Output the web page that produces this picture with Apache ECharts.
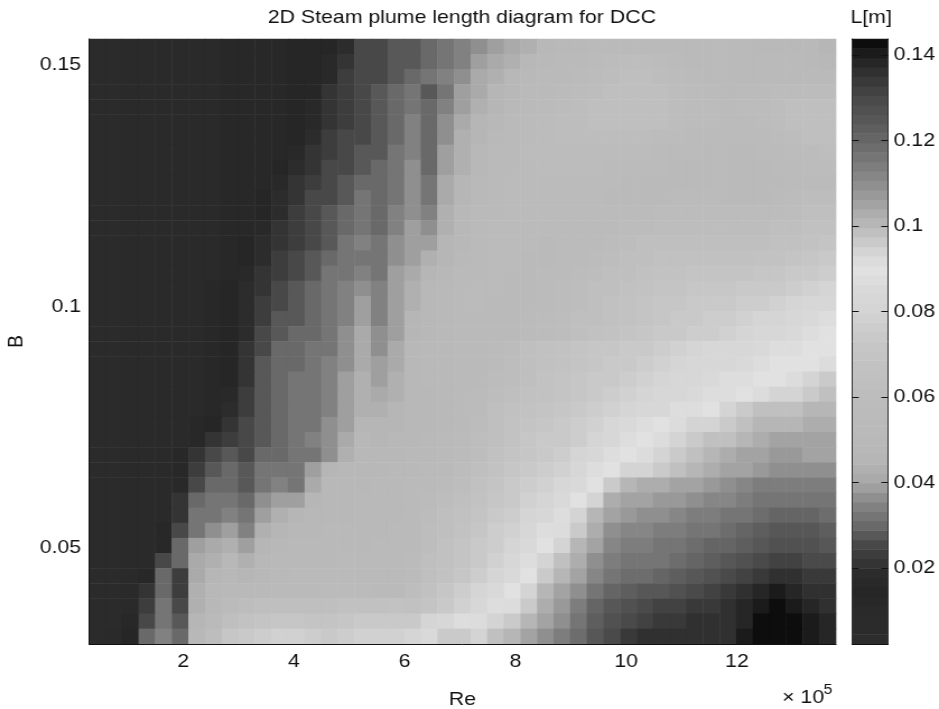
<!DOCTYPE html>
<html><head><meta charset="utf-8"><style>html,body{margin:0;padding:0;background:#fff;overflow:hidden}#c{width:838px;height:709px;transform:scaleX(1.12053);transform-origin:0 0}</style>
<script src="https://cdn.jsdelivr.net/npm/echarts@6/dist/echarts.min.js"></script></head><body><div id="c"></div>
<script>
const reTicks=[2,4,6,8,10,12];
const bTicks=[0.05,0.1,0.15];
const lTicks=[0.02,0.04,0.06,0.08,0.1,0.12,0.14];
const reRange=[0.3,13.79];
const bRange=[0.03,0.1554];
const lRange=[0.0022,0.1437];
// plume length in mm, rows from top (high B) to bottom (low B), columns from low Re to high Re
const lengthRows=[
[8,8,9,9,10,10,11,11,12,12,13,13,14,14,15,18,25,26,27,28,30,33,35,37,39,41,44,47,49,50,52,54,55,55,54,53,52,52,52,51,50,50,50,49,46],
[8,8,9,9,10,10,11,11,12,12,13,13,14,14,16,22,25,26,27,28,30,33,35,38,41,44,48,50,52,54,56,58,60,60,58,56,54,54,53,52,52,52,51,50,48],
[8,8,9,9,10,10,11,11,12,12,13,13,14,15,17,23,25,26,28,29,31,34,37,40,43,47,50,53,55,57,59,61,62,62,60,58,56,55,54,54,54,54,53,52,52],
[8,8,9,9,10,10,11,11,12,12,13,13,14,15,20,24,26,27,29,31,28,33,38,41,45,48,52,55,57,59,61,62,63,63,62,60,58,56,55,56,57,58,58,58,58],
[8,8,9,9,10,10,11,11,12,12,13,13,14,16,21,24,25,27,30,33,29,35,39,43,46,50,54,57,59,60,62,63,64,64,63,61,59,58,57,58,59,60,62,62,62],
[8,8,9,9,10,10,11,11,12,12,13,13,14,17,22,24,26,27,29,34,30,36,41,45,48,52,56,58,60,61,62,63,63,63,62,60,59,58,57,57,58,60,62,64,64],
[8,8,9,9,10,10,11,11,12,12,13,13,15,19,23,25,26,28,30,34,30,37,42,46,50,54,57,59,60,61,61,61,61,60,59,58,57,57,56,56,57,59,61,62,62],
[8,8,9,9,10,10,11,11,12,12,13,13,16,21,24,25,27,28,31,35,29,38,43,47,51,55,58,59,59,59,59,59,58,58,57,56,56,55,55,55,56,57,58,59,60],
[8,8,9,9,10,10,11,11,12,12,13,14,18,22,25,26,27,29,32,36,30,39,44,48,52,55,57,58,58,58,58,57,57,56,56,55,55,55,55,55,55,56,57,58,58],
[8,8,9,9,10,10,11,11,12,12,13,16,21,24,25,27,30,30,33,36,31,40,45,49,53,56,57,57,57,57,56,56,55,55,55,55,55,55,55,55,54,55,56,57,57],
[8,8,9,9,10,10,11,11,12,12,14,18,22,25,26,28,31,30,33,37,32,41,46,50,54,56,57,57,57,56,56,55,55,55,55,56,56,56,55,55,55,56,58,60,60],
[8,8,9,9,10,10,11,11,12,12,15,19,23,25,27,29,32,30,34,37,34,42,47,51,55,57,57,57,56,56,56,56,56,57,58,58,58,58,58,58,58,59,60,62,63],
[8,8,9,9,10,10,11,11,12,13,16,21,24,26,28,30,33,30,35,38,36,44,47,52,56,57,57,56,56,56,56,57,58,59,60,61,61,61,61,61,61,62,64,65,66],
[8,8,9,9,10,10,11,11,12,14,18,22,24,26,28,31,34,31,36,39,39,46,48,53,56,56,56,55,56,56,57,58,60,62,63,64,64,64,64,64,64,65,66,68,70],
[8,8,9,9,10,10,11,11,12,15,19,23,25,27,29,32,33,32,37,39,42,46,50,54,56,56,55,55,56,57,58,60,62,64,65,66,66,66,66,66,67,68,70,72,73],
[8,8,9,9,10,10,11,11,13,16,21,24,26,28,31,33,35,33,38,41,46,48,52,55,56,55,55,56,57,58,60,62,64,66,67,68,69,69,69,70,71,72,73,75,76],
[8,8,9,9,10,10,11,12,14,18,22,25,27,29,32,34,37,34,39,43,47,49,53,56,56,55,55,56,58,60,62,64,66,68,69,70,71,71,72,73,74,75,77,79,80],
[8,8,9,9,10,10,11,12,14,19,23,26,28,30,33,35,39,34,38,44,48,50,54,56,55,55,55,57,59,61,63,65,67,69,71,72,73,74,75,76,77,78,80,82,84],
[8,8,9,9,10,10,11,12,14,19,24,27,28,30,33,35,39,35,38,45,48,50,54,55,54,54,56,58,60,62,64,66,68,70,72,74,75,76,77,79,80,81,83,85,87],
[8,8,9,9,10,10,11,12,14,19,25,28,29,30,33,36,40,36,39,46,48,50,53,54,53,54,57,59,61,63,65,67,69,71,73,75,76,77,79,81,83,84,85,87,89],
[8,8,9,9,10,10,11,12,14,20,26,29,30,31,33,36,41,37,40,47,49,50,52,54,56,59,62,65,67,69,71,72,74,75,76,78,80,82,83,84,85,87,88,89,90],
[8,8,9,9,10,10,11,12,14,21,27,29,30,31,34,37,41,38,41,47,49,50,52,54,57,60,63,66,68,70,72,74,75,76,78,80,82,83,84,86,87,89,90,90,92],
[8,8,9,9,10,10,11,12,15,22,27,29,31,32,35,38,42,39,42,47,49,50,52,55,58,61,64,67,69,71,73,75,76,78,80,82,84,85,87,88,89,90,92,94,97],
[8,8,9,9,10,10,11,12,16,23,28,30,31,32,35,38,42,41,44,47,48,50,52,56,60,63,66,68,70,72,74,76,78,80,82,84,86,87,88,90,91,93,95,97,98],
[8,8,9,9,10,10,11,13,18,24,28,30,31,33,35,38,43,42,45,47,48,50,53,57,62,65,67,70,72,74,76,78,80,82,84,87,88,90,93,96,98,98,99,100,100],
[8,8,9,9,10,10,12,15,22,25,28,30,32,33,36,39,46,45,46,47,48,50,54,59,63,67,70,72,74,76,79,82,85,88,90,91,93,95,97,99,100,101,101,102,102],
[8,8,9,9,10,10,13,22,24,26,28,30,32,34,36,40,47,46,47,48,49,52,56,60,64,68,71,73,75,77,80,84,87,90,91,94,96,98,99,100,102,104,104,104,104],
[8,8,9,9,10,12,21,25,27,26,29,30,31,33,37,42,47,47,48,49,50,53,57,61,65,69,72,75,77,80,84,88,90,92,94,96,98,101,102,104,106,107,107,106,106],
[8,8,9,9,10,13,24,27,29,27,31,32,31,38,46,47,48,48,49,50,52,55,59,63,67,71,74,76,79,83,87,90,93,95,97,99,101,103,104,106,108,109,109,109,109],
[8,8,9,9,10,16,26,29,30,28,33,34,33,41,47,48,48,49,49,51,54,57,61,65,69,73,76,78,82,86,90,97,100,102,103,105,106,108,109,111,113,114,114,113,113],
[8,8,9,9,10,20,29,31,32,30,36,38,38,46,47,48,49,49,50,52,56,60,64,68,71,75,78,81,85,90,95,102,104,106,107,108,110,111,112,114,116,117,117,116,116],
[8,8,9,9,11,22,31,33,35,33,39,43,45,47,48,48,49,50,50,53,58,62,66,70,74,77,80,84,88,93,100,106,108,109,110,112,113,114,115,117,119,120,120,120,119],
[8,8,9,9,12,26,33,37,39,35,42,46,48,48,49,49,50,50,51,54,60,64,68,72,76,79,83,87,91,97,103,109,111,112,113,114,115,117,118,120,122,124,124,124,123],
[8,8,9,9,13,29,38,41,43,38,46,48,49,49,50,50,50,51,52,55,61,65,69,73,77,81,85,90,95,100,106,112,113,114,115,116,118,120,121,123,126,128,128,127,126],
[8,8,9,10,25,30,40,44,47,42,47,49,50,50,50,51,51,51,52,56,62,66,70,74,79,83,88,94,98,103,109,114,115,116,117,119,121,123,125,127,130,132,132,130,129],
[8,8,9,12,29,24,40,46,48,46,48,50,52,52,52,52,52,52,53,57,63,68,72,76,81,86,90,97,101,106,112,117,118,119,121,123,125,127,129,131,134,137,136,134,133],
[8,8,9,22,30,24,43,47,50,49,50,53,55,55,56,56,56,54,54,60,66,72,76,80,85,90,95,100,105,110,116,121,123,125,126,128,130,131,133,135,138,140,139,137,135],
[8,8,10,24,31,26,44,48,56,60,62,62,62,63,64,65,66,66,67,66,70,74,78,82,88,92,97,103,108,113,120,126,128,130,131,132,133,134,136,138,141,142,141,139,137],
[8,8,12,25,33,28,46,54,64,67,70,72,72,70,70,72,74,74,73,75,80,84,88,92,94,96,100,105,110,115,122,128,130,132,133,134,135,135,137,139,142,143,142,140,138],
[8,9,14,29,35,29,47,60,72,74,76,78,78,76,74,76,78,78,79,81,85,97,96,95,98,100,104,109,113,118,125,130,133,135,136,136,136,136,137,140,144,144,143,141,139]
];
// colormap: value in mm -> gray level
const mapValues=[2,10,14,18,20,25,30,35,40,46,60,64,70,73,76,78,80,84,87,90,95,100,104,110,120,130,136,141,144];
const mapGrays=[0x2c,0x2a,0x26,0x2a,0x30,0x45,0x6a,0x85,0xa8,0xb8,0xbc,0xc0,0xc4,0xc8,0xcc,0xd0,0xd4,0xd8,0xdc,0xe2,0xd0,0xb8,0xa8,0x8c,0x66,0x48,0x30,0x18,0x04];
const bandCount=64;

function grayAt(v){
  if(v<=mapValues[0])return mapGrays[0];
  for(let i=1;i<mapValues.length;i++){
    if(v<=mapValues[i]){const t=(v-mapValues[i-1])/(mapValues[i]-mapValues[i-1]);return Math.round(mapGrays[i-1]+t*(mapGrays[i]-mapGrays[i-1]));}
  }
  return mapGrays[mapGrays.length-1];
}
const lo=lRange[0]*1000,hi=lRange[1]*1000,step=(hi-lo)/bandCount;
const pieces=[],barData=[],barCats=[];
for(let k=0;k<bandCount;k++){
  const a=lo+k*step,b=a+step,g=grayAt((a+b)/2);
  pieces.push({min:k===0?-1:a,max:k===bandCount-1?999:b,color:`rgb(${g},${g},${g})`});
  barCats.push(String(k));barData.push([0,k,(a+b)/2]);
}
const nR=lengthRows.length,nC=lengthRows[0].length;
const cats=n=>Array.from({length:n},(_,i)=>String(i));
const heat=[];
lengthRows.forEach((row,r)=>row.forEach((v,c)=>heat.push([c,nR-1-r,v])));

const F='"Liberation Sans",Arial,sans-serif',FS=19,black='#111';
const noAxisParts={axisLabel:{show:false},axisTick:{show:false},splitLine:{show:false}};
const chart=echarts.init(document.getElementById('c'),null,{renderer:'canvas'});
chart.setOption({
  animation:false,backgroundColor:'#fff',
  grid:[
    {left:79.4,top:39,width:666.7,height:605,outerBoundsMode:'none'},
    {left:760.4,top:39,width:32.1,height:605,outerBoundsMode:'none'},
    {left:760.4,top:39,width:32.1,height:605,outerBoundsMode:'none'}
  ],
  visualMap:{type:'piecewise',show:false,pieces:pieces,seriesIndex:[0,1],dimension:2},
  xAxis:[
    {type:'category',gridIndex:0,data:cats(nC),show:false},
    {type:'value',gridIndex:0,position:'bottom',min:reRange[0],max:reRange[1],z:5,
     axisLine:{show:true,onZero:false,lineStyle:{color:black,width:1}},axisTick:{show:false},splitLine:{show:false},
     axisLabel:{customValues:reTicks,color:black,fontFamily:F,fontSize:FS,margin:8,hideOverlap:false},
     name:'Re',nameLocation:'middle',nameGap:56,nameTextStyle:{color:black,fontFamily:F,fontSize:FS,verticalAlign:'middle'}},
    {type:'category',gridIndex:1,data:['0'],show:false},
    {type:'value',gridIndex:2,position:'bottom',min:0,max:1,z:5,axisLine:{show:true,onZero:false,lineStyle:{color:black}},...noAxisParts},
    {type:'value',gridIndex:2,position:'top',min:0,max:1,z:5,axisLine:{show:true,onZero:false,lineStyle:{color:black}},...noAxisParts}
  ],
  yAxis:[
    {type:'category',gridIndex:0,data:cats(nR),show:false},
    {type:'value',gridIndex:0,position:'left',min:bRange[0],max:bRange[1],z:5,
     axisLine:{show:true,onZero:false,lineStyle:{color:black,width:1}},axisTick:{show:false},splitLine:{show:false},
     axisLabel:{customValues:bTicks,color:black,fontFamily:F,fontSize:FS,margin:7,hideOverlap:false},
     name:'B',nameLocation:'middle',nameRotate:90,nameGap:63,nameTextStyle:{color:black,fontFamily:F,fontSize:FS,verticalAlign:'middle'}},
    {type:'category',gridIndex:1,data:barCats,show:false},
    {type:'value',gridIndex:2,position:'left',min:lRange[0],max:lRange[1],z:5,
     axisLine:{show:true,onZero:false,lineStyle:{color:'#333'}},axisLabel:{show:false},splitLine:{show:false},
     axisTick:{show:true,inside:true,length:6,customValues:lTicks,lineStyle:{color:black}}},
    {type:'value',gridIndex:2,position:'right',min:lRange[0],max:lRange[1],z:5,
     axisLine:{show:true,onZero:false,lineStyle:{color:'#333'}},splitLine:{show:false},
     axisTick:{show:true,inside:true,length:6,customValues:lTicks,lineStyle:{color:black}},
     axisLabel:{customValues:lTicks,color:black,fontFamily:F,fontSize:FS,margin:5,hideOverlap:false}}
  ],
  series:[
    {type:'heatmap',xAxisIndex:0,yAxisIndex:0,data:heat,progressive:0,emphasis:{disabled:true}},
    {type:'heatmap',xAxisIndex:2,yAxisIndex:2,data:barData,progressive:0,emphasis:{disabled:true}},
    {type:'line',xAxisIndex:1,yAxisIndex:1,data:[],silent:true},
    {type:'line',xAxisIndex:3,yAxisIndex:3,data:[],silent:true},
    {type:'line',xAxisIndex:4,yAxisIndex:4,data:[],silent:true}
  ],
  graphic:[
    {type:'text',left:239,top:8,style:{text:'2D Steam plume length diagram for DCC',fill:black,font:`${FS}px ${F}`}},
    {type:'text',left:759,top:8,style:{text:'L[m]',fill:black,font:`${FS}px ${F}`}},
    {type:'text',left:698,top:688,style:{text:'× 10',fill:black,font:`${FS}px ${F}`}},
    {type:'text',left:735,top:683,style:{text:'5',fill:black,font:`14px ${F}`}}
  ]
});
const bad=lengthRows.findIndex(r=>r.length!==nC);
if(bad>=0)console.error('row length mismatch',bad);
</script></body></html>
